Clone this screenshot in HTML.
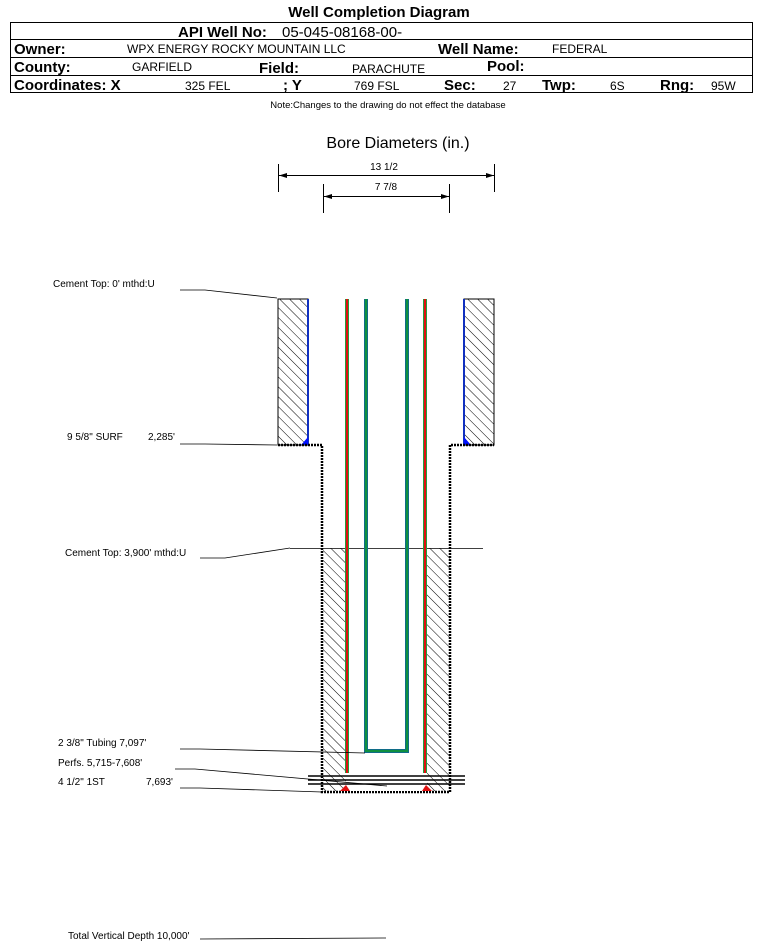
<!DOCTYPE html>
<html><head><meta charset="utf-8"><style>
body{margin:0;background:#fff;}
svg{display:block;font-family:"Liberation Sans",Arial,sans-serif;}
.b{font-weight:bold;font-size:15px;}
.n{font-size:12px;}
.s{font-size:10px;}
</style></head><body>
<svg width="759" height="943" viewBox="0 0 759 943" xmlns="http://www.w3.org/2000/svg">
<defs>
<pattern id="h" width="7" height="7" patternUnits="userSpaceOnUse" patternTransform="rotate(-45)">
<line x1="0" y1="0" x2="0" y2="7" stroke="#000" stroke-width="1"/>
</pattern>
</defs>
<text x="379" y="17" text-anchor="middle" class="b">Well Completion Diagram</text>
<rect x="10.5" y="22.5" width="742" height="70" fill="none" stroke="#000"/>
<line x1="10" y1="39.5" x2="752" y2="39.5" stroke="#000"/>
<line x1="10" y1="57.5" x2="752" y2="57.5" stroke="#000"/>
<line x1="10" y1="75.5" x2="752" y2="75.5" stroke="#000"/>
<text x="178" y="37" class="b">API Well No:</text>
<text x="282" y="37" font-size="15">05-045-08168-00-</text>
<text x="14" y="54" class="b">Owner:</text>
<text x="127" y="53" class="n">WPX ENERGY ROCKY MOUNTAIN LLC</text>
<text x="438" y="54" class="b">Well Name:</text>
<text x="552" y="53" class="n">FEDERAL</text>
<text x="14" y="72" class="b">County:</text>
<text x="132" y="71" class="n">GARFIELD</text>
<text x="259" y="73" class="b">Field:</text>
<text x="352" y="73" class="n">PARACHUTE</text>
<text x="487" y="71" class="b">Pool:</text>
<text x="14" y="90" class="b">Coordinates: X</text>
<text x="185" y="90" class="n">325 FEL</text>
<text x="283" y="90" class="b">; Y</text>
<text x="354" y="90" class="n">769 FSL</text>
<text x="444" y="90" class="b">Sec:</text>
<text x="503" y="90" class="n">27</text>
<text x="542" y="90" class="b">Twp:</text>
<text x="610" y="90" class="n">6S</text>
<text x="660" y="90" class="b">Rng:</text>
<text x="711" y="90" class="n">95W</text>
<text x="388" y="108" text-anchor="middle" font-size="9.5">Note:Changes to the drawing do not effect the database</text>

<text x="398" y="148" text-anchor="middle" font-size="16">Bore Diameters (in.)</text>
<text x="384" y="170" text-anchor="middle" class="s">13 1/2</text>
<text x="386" y="190" text-anchor="middle" class="s">7 7/8</text>
<line x1="278.5" y1="164" x2="278.5" y2="192" stroke="#000"/>
<line x1="494.5" y1="164" x2="494.5" y2="192" stroke="#000"/>
<line x1="279" y1="175.5" x2="494" y2="175.5" stroke="#000"/>
<polygon points="279,175.5 287,173 287,178" fill="#000"/>
<polygon points="494,175.5 486,173 486,178" fill="#000"/>
<line x1="323.5" y1="184" x2="323.5" y2="213" stroke="#000"/>
<line x1="449.5" y1="184" x2="449.5" y2="213" stroke="#000"/>
<line x1="324" y1="196.5" x2="449" y2="196.5" stroke="#000"/>
<polygon points="324,196.5 332,194 332,199" fill="#000"/>
<polygon points="449,196.5 441,194 441,199" fill="#000"/>

<rect x="278" y="299" width="30" height="146" fill="url(#h)" stroke="#000"/>
<rect x="464" y="299" width="30" height="146" fill="url(#h)" stroke="#000"/>
<line x1="308" y1="299" x2="308" y2="445" stroke="#1030c0" stroke-width="2"/>
<line x1="464" y1="299" x2="464" y2="445" stroke="#1030c0" stroke-width="2"/>
<polygon points="301,445 308,437 308,445" fill="#0010ff"/>
<polygon points="464,437 471,445 464,445" fill="#0010ff"/>
<polyline points="278,445 322,445 322,792 450,792 450,445 494,445" fill="none" stroke="#000" stroke-width="2.5" stroke-dasharray="2,1"/>
<rect x="323" y="548" width="23" height="243" fill="url(#h)"/>
<rect x="427" y="548" width="23" height="243" fill="url(#h)"/>
<rect x="346" y="773" width="80" height="18" fill="#fff"/>
<line x1="290" y1="548.5" x2="483" y2="548.5" stroke="#000" stroke-width="0.8"/>
<line x1="347" y1="299" x2="347" y2="773" stroke="#20a040" stroke-width="4"/>
<line x1="347" y1="299" x2="347" y2="773" stroke="#e01010" stroke-width="2"/>
<line x1="425" y1="299" x2="425" y2="773" stroke="#20a040" stroke-width="4"/>
<line x1="425" y1="299" x2="425" y2="773" stroke="#e01010" stroke-width="2"/>
<polygon points="340,791 346,785 350,791" fill="#e01010"/>
<polygon points="422,791 426,785 432,791" fill="#e01010"/>
<polyline points="366,299 366,751 407,751 407,299" fill="none" stroke="#1060a0" stroke-width="4"/>
<polyline points="366,299 366,751 407,751 407,299" fill="none" stroke="#109040" stroke-width="2.5"/>
<line x1="308" y1="776" x2="465" y2="776" stroke="#000" stroke-width="1.5"/>
<line x1="308" y1="780" x2="465" y2="780" stroke="#000" stroke-width="1.5"/>
<line x1="308" y1="784" x2="465" y2="784" stroke="#000" stroke-width="1.5"/>

<g stroke="#000" stroke-width="0.8" fill="none">
<polyline points="180,290 205,290 277,298"/>
<polyline points="180,444 205,444 277,445"/>
<polyline points="200,558 225,558 290,548"/>
<polyline points="180,749 200,749 365,753"/>
<polyline points="175,769 195,769 387,786"/>
<polyline points="180,788 200,788 322,792"/>
<line x1="200" y1="939" x2="386" y2="938"/>
</g>
<g class="s">
<text x="53" y="287">Cement Top: 0' mthd:U</text>
<text x="67" y="440">9 5/8" SURF</text>
<text x="148" y="440">2,285'</text>
<text x="65" y="556">Cement Top: 3,900' mthd:U</text>
<text x="58" y="746">2 3/8" Tubing 7,097'</text>
<text x="58" y="766">Perfs. 5,715-7,608'</text>
<text x="58" y="785">4 1/2" 1ST</text>
<text x="146" y="785">7,693'</text>
<text x="68" y="939">Total Vertical Depth 10,000'</text>
</g>
</svg>
</body></html>
